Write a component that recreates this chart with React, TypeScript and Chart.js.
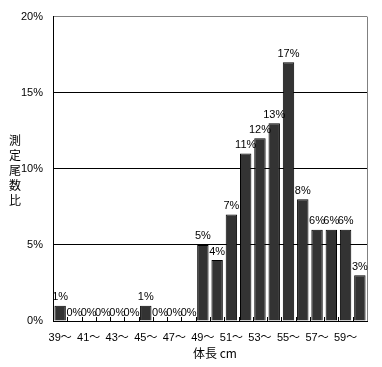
import React, { useEffect, useRef } from "react";
import { Chart, registerables } from "chart.js";
Chart.register(...registerables);

const categories = ["39～","40～","41～","42～","43～","44～","45～","46～","47～","48～","49～","50～","51～","52～","53～","54～","55～","56～","57～","58～","59～","60～"];
const values = [1,0,0,0,0,0,1,0,0,0,5,4,7,11,12,13,17,8,6,6,6,3];
const yTicks = [0,5,10,15,20];
const yTitle = "測定尾数比";
const xTitle = "体長 cm";

const FONT = "'Liberation Sans', 'Noto Sans CJK JP', sans-serif";

const extras = {
  id: "extras",
  afterDatasetsDraw(chart: any) {
    const ctx = chart.ctx;
    const { left, right, top, bottom } = chart.chartArea;
    ctx.save();
    // right border
    ctx.strokeStyle = "#808080";
    ctx.lineWidth = 1;
    ctx.beginPath();
    ctx.moveTo(Math.round(right) + 0.5, top);
    ctx.lineTo(Math.round(right) + 0.5, bottom);
    ctx.stroke();
    // x inner ticks at category boundaries
    const xs = chart.scales.x;
    ctx.strokeStyle = "#000";
    const n = categories.length;
    for (let i = 1; i < n; i++) {
      const x = Math.round((xs.getPixelForValue(i - 1) + xs.getPixelForValue(i)) / 2) + 0.5;
      ctx.beginPath();
      ctx.moveTo(x, bottom);
      ctx.lineTo(x, bottom - 4);
      ctx.stroke();
    }
    // data labels
    const meta = chart.getDatasetMeta(0);
    ctx.fillStyle = "#000";
    ctx.font = "11px " + FONT;
    ctx.textAlign = "center";
    ctx.textBaseline = "bottom";
    meta.data.forEach((bar: any, i: number) => {
      ctx.fillText(values[i] + "%", bar.x, bar.y - 3);
    });
    // y title stacked
    ctx.font = "12px 'Noto Sans CJK JP', sans-serif";
    ctx.textBaseline = "middle";
    const chars = Array.from(yTitle);
    chars.forEach((c, i) => ctx.fillText(c, 15, 140 + i * 15));
    // x title
    ctx.fillText(xTitle, 215, 353);
    ctx.restore();
  },
};

export default function App() {
  const ref = useRef<HTMLCanvasElement>(null);
  useEffect(() => {
    document.body.style.margin = "0";
    const chart = new Chart(ref.current!, {
      type: "bar",
      data: {
        labels: categories,
        datasets: [
          {
            data: values,
            backgroundColor: "#333333",
            borderColor: "#000000",
            borderWidth: 1,
            barPercentage: 0.8,
            categoryPercentage: 1,
          },
        ],
      },
      options: {
        animation: false,
        responsive: false,
        layout: { padding: { top: 15, right: 15, left: 0, bottom: 0 } },
        plugins: { legend: { display: false }, tooltip: { enabled: false } },
        scales: {
          x: {
            grid: { display: false, drawTicks: false },
            border: { color: "#000", width: 1 },
            ticks: {
              autoSkip: false,
              maxRotation: 0,
              padding: 10,
              color: "#000",
              font: { size: 11, family: FONT },
              callback: (v: any, i: number) => (i % 2 === 0 ? categories[i] : ""),
            },
            afterFit: (s: any) => { s.height = 46; },
          },
          y: {
            min: 0,
            max: 20,
            afterBuildTicks: (s: any) => { s.ticks = yTicks.map((v) => ({ value: v })); },
            grid: {
              drawTicks: false,
              color: (c: any) => (c.tick && c.tick.value === 20 ? "#808080" : "#000"),
            },
            border: { color: "#000", width: 1 },
            ticks: {
              padding: 10,
              color: "#000",
              font: { size: 11, family: FONT },
              callback: (v: any) => v + "%",
            },
            afterFit: (s: any) => { s.width = 53; },
          },
        },
      },
      plugins: [extras],
    });
    return () => chart.destroy();
  }, []);
  return <canvas ref={ref} width={382} height={367} style={{ display: "block" }} />;
}
